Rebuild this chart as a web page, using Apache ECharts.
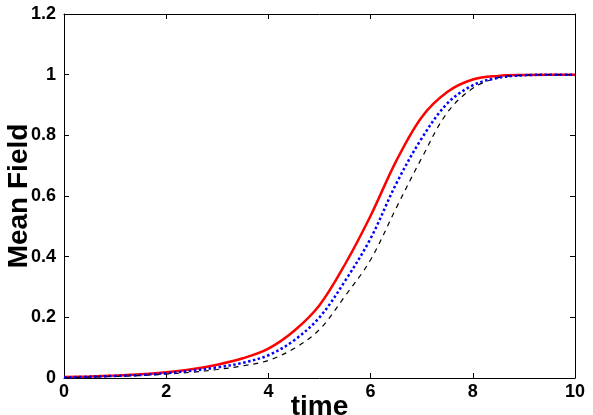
<!DOCTYPE html>
<html>
<head>
<meta charset="utf-8">
<script src="https://cdn.jsdelivr.net/npm/echarts@6/dist/echarts.min.js"></script>
<style>
  html, body { margin: 0; padding: 0; background: #fff; }
  #chartmain { width: 593px; height: 415px; }
</style>
</head>
<body>
<div id="chartmain"></div>
<script>
// time samples (shared by all three curves)
var time = [0, 0.5, 1, 1.5, 2, 2.5, 3, 3.5, 4, 4.5, 5, 5.5, 6, 6.5, 7, 7.5, 8, 8.5, 9, 9.5, 10];

// values
var redSolid = [0.003, 0.005, 0.008, 0.012, 0.019, 0.029, 0.044, 0.065, 0.097, 0.155, 0.24, 0.375, 0.535, 0.715, 0.86, 0.943, 0.984, 0.996, 0.999, 1.0, 1.0];
var blueDotted = [0.002, 0.004, 0.007, 0.010, 0.016, 0.024, 0.035, 0.050, 0.075, 0.124, 0.2, 0.32, 0.46, 0.64, 0.79, 0.905, 0.965, 0.99, 0.998, 1.0, 1.0];
var blackDashed = [0.001, 0.003, 0.005, 0.008, 0.013, 0.019, 0.028, 0.040, 0.058, 0.097, 0.16, 0.27, 0.39, 0.56, 0.725, 0.875, 0.955, 0.99, 0.998, 1.0, 1.0];

var xTicks = { min: 0, max: 10, interval: 2 };
var yTicks = { min: 0, max: 1.2, interval: 0.2 };

function pairs(ys) {
  var out = [];
  for (var i = 0; i < time.length; i++) {
    out.push([time[i], ys[i]]);
  }
  return out;
}

var chartmain = echarts.init(document.getElementById('chartmain'));
var font = 'Liberation Sans, Arial, Helvetica, sans-serif';

chartmain.setOption({
  animation: false,
  backgroundColor: '#fff',
  grid: { left: 64, right: 18, top: 14, bottom: 37, containLabel: false, outerBoundsMode: 'none' },
  xAxis: [
    {
      type: 'value', min: xTicks.min, max: xTicks.max, interval: xTicks.interval,
      position: 'bottom',
      name: 'time', nameLocation: 'middle', nameGap: 15, nameMoveOverlap: false,
      nameTextStyle: { fontFamily: font, fontWeight: 'bold', fontSize: 28, color: '#000' },
      axisLine: { show: true, onZero: false, lineStyle: { color: '#000', width: 1 } },
      axisTick: { show: true, inside: true, length: 5, lineStyle: { color: '#000' } },
      axisLabel: { fontFamily: font, fontWeight: 'bold', fontSize: 18, color: '#000', margin: 5 },
      splitLine: { show: false }
    },
    {
      type: 'value', min: xTicks.min, max: xTicks.max, interval: xTicks.interval,
      position: 'top',
      axisLine: { show: true, onZero: false, lineStyle: { color: '#000', width: 1 } },
      axisTick: { show: true, inside: true, length: 5, lineStyle: { color: '#000' } },
      axisLabel: { show: false },
      splitLine: { show: false }
    }
  ],
  yAxis: [
    {
      type: 'value', min: yTicks.min, max: yTicks.max, interval: yTicks.interval,
      position: 'left',
      name: 'Mean Field', nameLocation: 'middle', nameGap: 31, nameMoveOverlap: false,
      nameTextStyle: { fontFamily: font, fontWeight: 'bold', fontSize: 28, color: '#000' },
      axisLine: { show: true, onZero: false, lineStyle: { color: '#000', width: 1 } },
      axisTick: { show: true, inside: true, length: 5, lineStyle: { color: '#000' } },
      axisLabel: { fontFamily: font, fontWeight: 'bold', fontSize: 18, color: '#000', margin: 8 },
      splitLine: { show: false }
    },
    {
      type: 'value', min: yTicks.min, max: yTicks.max, interval: yTicks.interval,
      position: 'right',
      axisLine: { show: true, onZero: false, lineStyle: { color: '#000', width: 1 } },
      axisTick: { show: true, inside: true, length: 5, lineStyle: { color: '#000' } },
      axisLabel: { show: false },
      splitLine: { show: false }
    }
  ],
  series: [
    {
      type: 'line', xAxisIndex: 0, yAxisIndex: 0,
      data: pairs(redSolid), smooth: 0.35, showSymbol: false,
      lineStyle: { color: '#ff0000', width: 2.5, type: 'solid' }
    },
    {
      type: 'line', xAxisIndex: 0, yAxisIndex: 0,
      data: pairs(blackDashed), smooth: 0.35, showSymbol: false,
      lineStyle: { color: '#000', width: 1.2, type: [5, 5] }
    },
    {
      type: 'line', xAxisIndex: 0, yAxisIndex: 0,
      data: pairs(blueDotted), smooth: 0.35, showSymbol: false,
      lineStyle: { color: '#0000ff', width: 2.5, type: [2.5, 2.5] }
    }
  ]
});
</script>
</body>
</html>
